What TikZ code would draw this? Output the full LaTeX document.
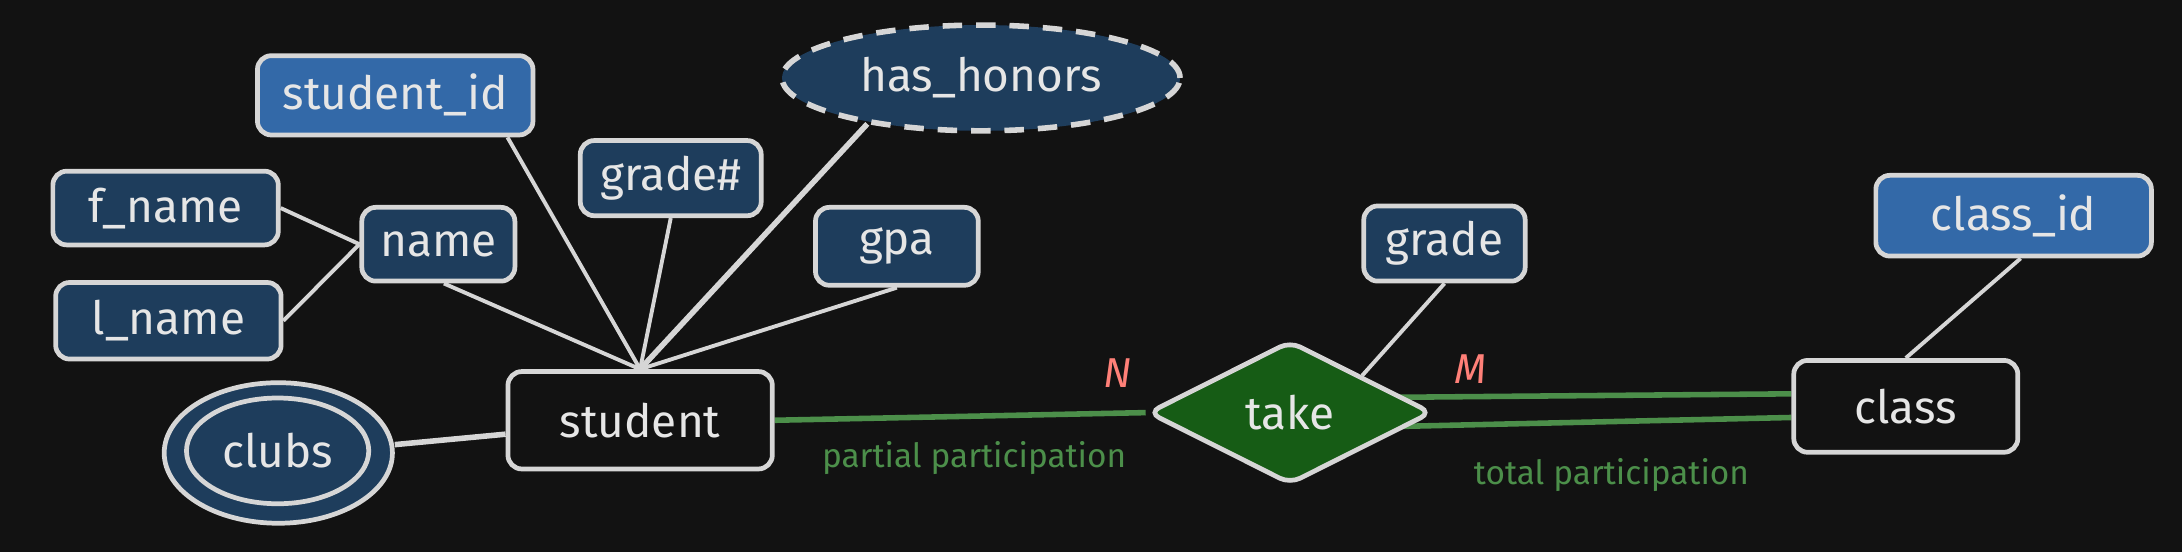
\documentclass[tikz,border=0pt]{standalone}
\usepackage{fontspec}
\setmainfont{Fira Sans}
\usetikzlibrary{shapes.geometric,calc}
\definecolor{bgc}{HTML}{121212}
\definecolor{navy}{HTML}{1E3D5C}
\definecolor{keyblue}{HTML}{3369A8}
\definecolor{relgreen}{HTML}{165C15}
\definecolor{strokec}{HTML}{D6D6D6}
\definecolor{txtc}{HTML}{E6E6E6}
\definecolor{linegreen}{HTML}{4C8F4A}
\definecolor{cardc}{HTML}{FF8078}
\pgfdeclarelayer{bg}
\pgfsetlayers{bg,main}
\tikzset{
  box/.style={draw=strokec, line width=1.7pt, rounded corners=5pt, text=txtc,
    font=\fontsize{16.5}{19}\selectfont, inner sep=0pt},
  attrbox/.style={box, fill=navy},
  keybox/.style={box, fill=keyblue},
  entbox/.style={box, fill=bgc},
  ellbox/.style={ellipse, draw=strokec, line width=1.7pt, text=txtc,
    font=\fontsize{16.5}{19}\selectfont, inner sep=0pt},
  link/.style={draw=strokec, line width=1.4pt},
  thicklink/.style={draw=strokec, line width=2pt},
  rellink/.style={draw=linegreen, line width=2pt},
  partlabel/.style={text=linegreen, font=\fontsize{12}{14}\selectfont},
  cardlabel/.style={text=cardc, font=\fontsize{15}{18}\selectfont\itshape},
}
\begin{document}
\begin{tikzpicture}[x=0.5pt, y=-0.5pt]
\useasboundingbox (0,0) rectangle (1568,397);
% entities
\node[entbox, minimum width=95pt, minimum height=35pt] (student) at (460,302) {student};
\node[entbox, minimum width=80.5pt, minimum height=33pt] (class) at (1369.5,292) {class};
% attributes
\node[keybox, minimum width=99pt, minimum height=28.5pt] (sid) at (284,68.5) {student\_id};
\node[attrbox, minimum width=81pt, minimum height=26.5pt] (fname) at (119,149.5) {f\_name};
\node[attrbox, minimum width=81pt, minimum height=27.5pt] (lname) at (121,230.5) {l\_name};
\node[attrbox, minimum width=55pt, minimum height=26.5pt] (name) at (315,175.5) {name};
\node[attrbox, minimum width=65pt, minimum height=27pt] (gradeno) at (482,128) {grade\#};
\node[attrbox, minimum width=58.5pt, minimum height=28pt] (gpa) at (644.5,177) {gpa};
\node[attrbox, minimum width=58pt, minimum height=27pt] (grade) at (1038,175) {grade};
\node[keybox, minimum width=99pt, minimum height=29pt] (cid) at (1447,155) {class\_id};
\node[ellbox, fill=navy, line width=2pt, dash pattern=on 7pt off 5pt, minimum width=143pt, minimum height=38pt] (hon) at (705,56) {has\_honors};
\node[ellbox, fill=navy, minimum width=82pt, minimum height=50.5pt] (clubs) at (200,325.5) {};
\node[ellbox, minimum width=65.5pt, minimum height=38pt] (clubsin) at (199.5,324) {clubs};
% relationship
\node[diamond, draw=strokec, line width=1.7pt, fill=relgreen, text=txtc, rounded corners=4pt,
  font=\fontsize{16.5}{19}\selectfont, inner sep=0pt, minimum width=102pt, minimum height=51.5pt] (take) at (927,296.5) {take};
% labels
\node[cardlabel] (nlab) at (803,268) {N};
\node[cardlabel] (mlab) at (1057,265) {M};
\node[partlabel] (plab) at (700,329) {partial participation};
\node[partlabel] (tlab) at (1158,341) {total participation};
% connectors
\begin{pgfonlayer}{bg}
\fill[bgc] (0,0) rectangle (1568,397);
\path[link] ([xshift=-10pt]sid.south east) -- (student.north);
\path[link] ([xshift=2pt]name.south) -- (student.north);
\path[link] (gradeno.south) -- (student.north);
\path[thicklink] (hon.202) -- (student.north);
\path[link] (gpa.south) -- (student.north);
\path[link] (fname.east) -- (name.west);
\path[link] (lname.east) -- (name.west);
\path[thicklink] ([yshift=3pt]clubs.east) -- ([yshift=-5pt]student.west);
\path[rellink] (student.east) -- (take.west);
\path[rellink] ([xshift=-14pt,yshift=5.5pt]take.east) -- ([yshift=4.5pt]class.west);
\path[rellink] ([xshift=-14pt,yshift=-5pt]take.east) -- ([yshift=-4pt]class.west);
\path[link] (grade.south) -- (take.north east);
\path[link] ([xshift=2.5pt]cid.south) -- (class.north);
\end{pgfonlayer}
\end{tikzpicture}
\end{document}
